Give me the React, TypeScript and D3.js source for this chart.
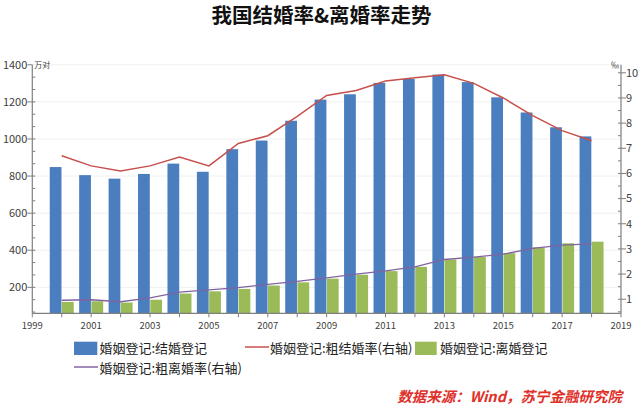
import React from 'react';
import * as d3 from 'd3';

const years = [2000, 2001, 2002, 2003, 2004, 2005, 2006, 2007, 2008, 2009, 2010, 2011, 2012, 2013, 2014, 2015, 2016, 2017, 2018];
// 万对
const marriages = [848.5, 805, 786, 811.4, 867.2, 823.1, 945, 991.4, 1098.3, 1212.4, 1241, 1302.4, 1323.6, 1346.9, 1306.7, 1224.7, 1142.8, 1063.1, 1013.9];
const divorces = [121.3, 125, 117.7, 133, 166.5, 178.5, 191.3, 209.8, 226.9, 246.8, 267.8, 287.4, 310.4, 350, 363.7, 384.1, 415.8, 437.4, 446.1];
// ‰
const marriageRate = [6.7, 6.3, 6.1, 6.3, 6.65, 6.3, 7.19, 7.5, 8.27, 9.1, 9.3, 9.67, 9.8, 9.92, 9.58, 9.0, 8.3, 7.7, 7.3];
const divorceRate = [0.96, 0.98, 0.9, 1.05, 1.28, 1.37, 1.46, 1.59, 1.71, 1.85, 2.0, 2.13, 2.29, 2.58, 2.67, 2.79, 3.02, 3.15, 3.2];

const xTickYears = [1999, 2001, 2003, 2005, 2007, 2009, 2011, 2013, 2015, 2017, 2019];
const leftTicks = [200, 400, 600, 800, 1000, 1200, 1400];
const rightTicks = [1, 2, 3, 4, 5, 6, 7, 8, 9, 10];

const title = '我国结婚率&离婚率走势';
const legendNames = ['婚姻登记:结婚登记', '婚姻登记:粗结婚率(右轴)', '婚姻登记:离婚登记', '婚姻登记:粗离婚率(右轴)'];
const source = '数据来源：Wind，苏宁金融研究院';

const W = 640;
const H = 406;
const plot = { left: 32.3, right: 621, top: 64.8, bottom: 313.3 };
const zeroY = 324.4;

const colors = { blue: '#4a7ebf', green: '#9bbb59', red: '#c8504c', purple: '#8064a2', axis: '#7f7f7f', text: '#404040' };
const font = '"Noto Sans CJK SC", "Noto Sans", sans-serif';

export default function App() {
  const x = d3.scaleLinear().domain([1999, 2019]).range([plot.left, plot.right]);
  const yL = d3.scaleLinear().domain([0, 1400]).range([zeroY, plot.top]);
  const yR = d3.scaleLinear().domain([0, 10]).range([zeroY, 72.8]);
  const offset = d3.scaleBand().domain(['m', 'd']).range([-12, 12]).paddingInner(0.04);

  const rateLine = d3
    .line<number>()
    .x((d, i) => x(years[i]))
    .y((d) => yR(d));

  const leftMinor = d3.range(200 / 3, 1400, 200 / 3).filter((v) => yL(v) <= plot.bottom + 0.5);
  const rightMinor = d3.range(0.5, 10.3, 0.5).filter((v) => yR(v) <= plot.bottom + 0.5 && yR(v) >= plot.top);

  return (
    <svg width={W} height={H} style={{ display: 'block', position: 'absolute', left: 0, top: 0, background: '#fff' }} fontFamily={font}>
      <text x={321.5} y={23} textAnchor="middle" fontSize={20.5} fontWeight="bold" fill="#111">
        {title}
      </text>

      {/* faint grid */}
      {leftTicks.map((t) => (
        <line key={t} x1={plot.left} x2={plot.right} y1={yL(t)} y2={yL(t)} stroke="#f0f0f0" />
      ))}

      {/* bars */}
      {years.map((yr, i) => (
        <g key={yr}>
          <rect x={x(yr) + (offset('m') as number)} width={offset.bandwidth()} y={yL(marriages[i])} height={plot.bottom - yL(marriages[i])} fill={colors.blue} />
          <rect x={x(yr) + (offset('d') as number)} width={offset.bandwidth()} y={yL(divorces[i])} height={plot.bottom - yL(divorces[i])} fill={colors.green} />
        </g>
      ))}

      <path d={rateLine(marriageRate) || ''} fill="none" stroke={colors.red} strokeWidth={1.5} />
      <path d={rateLine(divorceRate) || ''} fill="none" stroke={colors.purple} strokeWidth={1.3} />

      {/* left axis */}
      <line x1={plot.left} x2={plot.left} y1={plot.top} y2={plot.bottom} stroke={colors.axis} strokeWidth={1.2} />
      {leftTicks.map((t) => (
        <g key={t}>
          <line x1={plot.left - 5} x2={plot.left} y1={yL(t)} y2={yL(t)} stroke={colors.axis} />
          <text x={plot.left - 5} y={yL(t)} dy="0.35em" textAnchor="end" fontSize={11} fill={colors.text}>
            {t}
          </text>
        </g>
      ))}
      {leftMinor.map((t) => (
        <line key={t} x1={plot.left} x2={plot.left + 3} y1={yL(t)} y2={yL(t)} stroke={colors.axis} />
      ))}
      <text x={plot.left + 2} y={plot.top + 3} fontSize={8} fill={colors.text}>
        万对
      </text>

      {/* right axis */}
      <line x1={plot.right} x2={plot.right} y1={plot.top} y2={plot.bottom} stroke={colors.axis} strokeWidth={1.2} />
      {rightTicks.map((t) => (
        <g key={t}>
          <line x1={plot.right} x2={plot.right + 5} y1={yR(t)} y2={yR(t)} stroke={colors.axis} />
          <text x={plot.right + 5} y={yR(t)} dy="0.35em" fontSize={11} fill={colors.text}>
            {t}
          </text>
        </g>
      ))}
      {rightMinor.map((t) => (
        <line key={t} x1={plot.right - 3} x2={plot.right} y1={yR(t)} y2={yR(t)} stroke={colors.axis} />
      ))}
      <text x={plot.right - 2} y={plot.top + 3} textAnchor="end" fontSize={8} fill={colors.text}>
        ‰
      </text>

      {/* x axis */}
      <line x1={plot.left} x2={plot.right} y1={plot.bottom} y2={plot.bottom} stroke={colors.axis} strokeWidth={1.2} />
      {d3.range(1999, 2020).map((yr) => (
        <line key={yr} x1={x(yr)} x2={x(yr)} y1={plot.bottom} y2={plot.bottom + 4} stroke={colors.axis} />
      ))}
      {xTickYears.map((yr) => (
        <text key={yr} x={x(yr)} y={326} dy="0.35em" textAnchor="middle" fontSize={9.5} fill={colors.text}>
          {yr}
        </text>
      ))}

      {/* legend */}
      <g fontSize={13} fill="#222">
        <rect x={74} y={341.7} width={23.3} height={13.3} fill={colors.blue} />
        <text x={99.5} y={348.5} dy="0.35em">{legendNames[0]}</text>
        <line x1={245} x2={269} y1={347} y2={347} stroke={colors.red} strokeWidth={1.5} />
        <text x={270} y={348.5} dy="0.35em">{legendNames[1]}</text>
        <rect x={415} y={341.7} width={21.7} height={13.3} fill={colors.green} />
        <text x={440} y={348.5} dy="0.35em">{legendNames[2]}</text>
        <line x1={74} x2={98} y1={367} y2={367} stroke={colors.purple} strokeWidth={1.5} />
        <text x={99.5} y={368.5} dy="0.35em">{legendNames[3]}</text>
      </g>

      <text x={622} y={397} dy="0.35em" textAnchor="end" fontSize={14.5} fontStyle="italic" fontWeight="bold" fill="#e0302a">
        {source}
      </text>
    </svg>
  );
}
